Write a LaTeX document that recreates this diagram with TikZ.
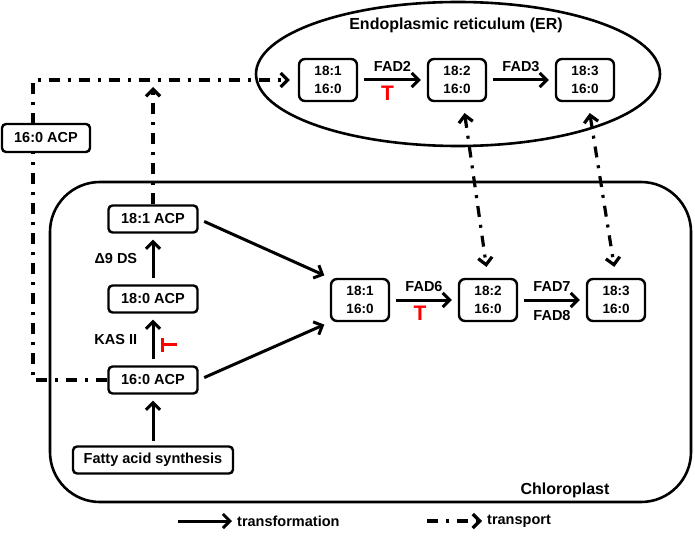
\documentclass[tikz,border=0pt]{standalone}
\usepackage{fontspec}
\setmainfont{Liberation Sans}
\usetikzlibrary{arrows.meta, shapes.geometric, calc, positioning}
\newcommand{\labelFont}{\fontsize{14.5}{17}\selectfont\bfseries}
\newcommand{\lipFont}{\fontsize{13.5}{18}\selectfont\bfseries}
\newcommand{\titleFont}{\fontsize{16}{19}\selectfont\bfseries}
\tikzset{
    acpBox/.style={draw, rounded corners=4pt, line width=2.4pt, fill=white, minimum width=89pt, minimum height=27pt, inner sep=1pt, font=\labelFont},
    lipBox/.style={draw, rounded corners=6pt, line width=2.4pt, fill=white, minimum width=58pt, minimum height=42pt, inner sep=1pt, align=center, font=\lipFont},
    membLine/.style={line width=2.6pt},
    titleNode/.style={font=\titleFont, inner sep=1pt},
    enzLabel/.style={font=\labelFont},
    tLetter/.style={text=red, font=\fontsize{21}{22}\selectfont\bfseries, inner sep=0pt},
    transArrow/.style={->, line width=3pt, shorten <=6pt, shorten >=6pt},
    transpArrow/.style={line width=3.2pt, dash pattern=on 11pt off 8pt on 3pt off 8pt},
    inhibBar/.style={-{Bar[width=14pt]}, line width=3pt, red},
}
\newcommand{\drawStep}[5][]{
    \draw[transArrow] (#2) -- node[above=4pt, enzLabel] {#4} node[below=5pt, #1] {#5} (#3);
}
\begin{document}
\begin{tikzpicture}[x=1pt, y=-1pt, >={Straight Barb[length=7pt, width=14pt]}]
    \useasboundingbox (0,0) rectangle (695,537);

    % compartments
    \draw[membLine] (458,74) ellipse [x radius=202pt, y radius=72pt];
    \draw[membLine, rounded corners=50pt] (50,182) rectangle (691,502);
    \node[titleNode] (erTitle) at (456,25) {Endoplasmic reticulum (ER)};
    \node[titleNode] (cpTitle) at (565,490) {Chloroplast};

    % ER lipids
    \node[lipBox] (er181) at (328,80) {18:1\\16:0};
    \node[lipBox] (er182) at (457,80) {18:2\\16:0};
    \node[lipBox] (er183) at (585,80) {18:3\\16:0};

    % chloroplast
    \node[acpBox] (acp181) at (153,219) {18:1 ACP};
    \node[acpBox] (acp180) at (153,299) {18:0 ACP};
    \node[acpBox] (acp160) at (153,380) {16:0 ACP};
    \node[acpBox, minimum width=160pt] (fas) at (153,460) {Fatty acid synthesis};
    \node[lipBox] (cp181) at (360,300) {18:1\\16:0};
    \node[lipBox] (cp182) at (488,300) {18:2\\16:0};
    \node[lipBox] (cp183) at (616,300) {18:3\\16:0};

    % transformations
    \draw[transArrow, shorten <=4pt] (fas) -- (acp160);
    \draw[transArrow] (acp160) -- node[left=11pt, enzLabel] {KAS II} (acp180);
    \draw[transArrow] (acp180) -- node[left=11pt, enzLabel] {Δ9 DS} (acp181);
    \draw[transArrow] (acp181.east) -- (cp181.north west);
    \draw[transArrow] (acp160.east) -- (cp181.south west);
    \drawStep[xshift=-5pt, tLetter]{er181}{er182}{FAD2}{T}
    \drawStep[]{er182}{er183}{FAD3}{}
    \drawStep[xshift=-4pt, tLetter]{cp181}{cp182}{FAD6}{T}
    \drawStep[enzLabel, below=6pt]{cp182}{cp183}{FAD7}{FAD8}

    \coordinate (kasMid) at ($(acp160.north)!0.5!(acp180.south)$);
    \draw[inhibBar] ($(kasMid)+(24,5)$) -- ($(kasMid)+(8,5)$);

    % transport
    \coordinate (cnr) at (33,80);
    \draw[transpArrow, ->, shorten >=8pt] (acp160.west) -| (cnr) -- (er181.west);
    \draw[transpArrow, ->, shorten >=7pt] (acp181.north) -- (acp181.north |- cnr);
    \draw[transpArrow, <->, shorten <=11pt, shorten >=11pt] ([xshift=6pt]er182.south) -- (cp182.north);
    \draw[transpArrow, <->, shorten <=11pt, shorten >=11pt] ([xshift=3pt]er183.south) -- (cp183.north);
    \node[acpBox, minimum width=88pt, minimum height=28pt] (acpOut) at (46,138) {16:0 ACP};

    % legend
    \node[enzLabel, anchor=west, inner sep=1pt] (legTrans) at (236,521) {transformation};
    \coordinate (legTrans0) at (178,521);
    \draw[transArrow, shorten <=0pt, shorten >=4pt] (legTrans0) -- (legTrans.west);
    \node[enzLabel, anchor=west, inner sep=1pt] (legTransp) at (486,521) {transport};
    \coordinate (legTransp0) at (427,521);
    \draw[transpArrow, ->, shorten >=4pt] (legTransp0) -- (legTransp.west);
\end{tikzpicture}
\end{document}
